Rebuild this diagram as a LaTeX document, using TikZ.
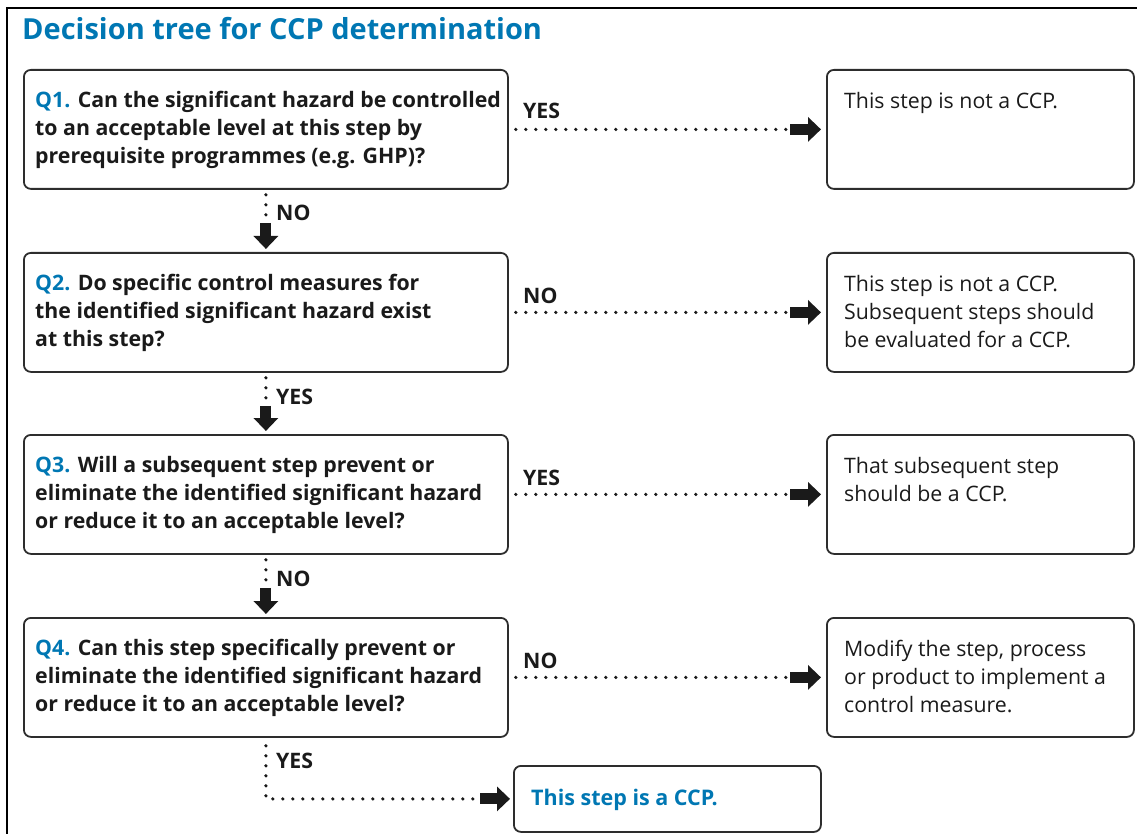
\documentclass[tikz,border=0pt]{standalone}
\usepackage{fontspec}
\setmainfont{Open Sans}
\usetikzlibrary{arrows.meta}
\definecolor{ccpblue}{RGB}{0,119,179}
\definecolor{txt}{RGB}{26,26,26}
\definecolor{boxline}{RGB}{45,45,45}
\begin{document}
\begin{tikzpicture}[x=1pt,y=-1pt,
 box/.style={draw=boxline, line width=1.8pt, rounded corners=7pt, inner sep=0pt, anchor=north west},
 qbox/.style={box, minimum width=484pt, minimum height=119pt},
 abox/.style={box, minimum width=307pt, minimum height=119pt},
 qtext/.style={anchor=north west, inner sep=0pt, align=left, font=\fontsize{21.3}{28}\selectfont\bfseries, text=txt},
 atext/.style={anchor=north west, inner sep=0pt, align=left, font=\fontsize{21.3}{28}\selectfont, text=txt},
 lbl/.style={anchor=base west, inner sep=0pt, font=\fontsize{21.3}{24}\selectfont\bfseries, text=txt},
 dots/.style={line width=3.6pt, line cap=round, dash pattern=on 0pt off 10pt, draw=txt},
 blockarrow/.style={-{Triangle[length=13pt,width=24pt]}, line width=11pt, draw=txt}
]
\useasboundingbox (0,0) rectangle (1137,834);
\draw[line width=2pt, draw=black] (7,834) -- (7,8) -- (1137,8);

\node[anchor=base west, inner sep=0pt, font=\fontsize{29}{36}\selectfont\bfseries, text=ccpblue] (title) at (22,40) {Decision tree for CCP determination};

% question boxes
\node[qbox] (q1) at (23,69) {};
\node[qbox] (q2) at (23,252) {};
\node[qbox] (q3) at (23,434) {};
\node[qbox] (q4) at (23,617) {};
% answer boxes
\node[abox] (a1) at (826,69) {};
\node[abox] (a2) at (826,252) {};
\node[abox] (a3) at (826,434) {};
\node[abox] (a4) at (826,617) {};
\node[box, minimum width=307pt, minimum height=66pt] (fin) at (513,765) {};

% texts
\node[qtext] (t1) at (35,91) {\textcolor{ccpblue}{Q1.} Can the significant hazard be controlled\\to an acceptable level at this step by\\prerequisite programmes (e.g. GHP)?};
\node[qtext] (t2) at (35,274) {\textcolor{ccpblue}{Q2.} Do specific control measures for\\the identified significant hazard exist\\at this step?};
\node[qtext] (t3) at (35,456) {\textcolor{ccpblue}{Q3.} Will a subsequent step prevent or\\eliminate the identified significant hazard\\or reduce it to an acceptable level?};
\node[qtext] (t4) at (35,639) {\textcolor{ccpblue}{Q4.} Can this step specifically prevent or\\eliminate the identified significant hazard\\or reduce it to an acceptable level?};
\node[atext] (s1) at (844,92) {This step is not a CCP.};
\node[atext] (s2) at (844,275) {This step is not a CCP.\\Subsequent steps should\\be evaluated for a CCP.};
\node[atext] (s3) at (844,457) {That subsequent step\\should be a CCP.};
\node[atext] (s4) at (844,640) {Modify the step, process\\or product to implement a\\control measure.};
\node[anchor=west, inner sep=0pt, font=\fontsize{21.5}{24}\selectfont\bfseries, text=ccpblue] (sf) at (531,800) {This step is a CCP.};

% horizontal connectors
\foreach \q/\a in {q1/a1,q2/a2,q3/a3,q4/a4}{
  \draw[dots] ([xshift=7pt]\q.east) -- ([xshift=-40pt]\a.west);
  \draw[blockarrow] ([xshift=-36pt]\a.west) -- ([xshift=-5pt]\a.west);
}
% vertical connectors
\foreach \u/\d in {q1/q2,q2/q3,q3/q4}{
  \draw[dots] ([yshift=-5pt]\u.south) -- ([yshift=-28pt]\u.south);
  \draw[blockarrow] ([yshift=-33pt]\u.south) -- ([yshift=3pt]\d.north);
}
% final connector
\coordinate (corner) at (q4.south |- fin.west);
\draw[dots] ([yshift=-8pt]q4.south) -- (corner) -- ([xshift=-40pt]fin.west);
\draw[blockarrow] ([xshift=-33pt]fin.west) -- ([xshift=-3pt]fin.west);

% labels
\node[lbl] (l1) at (523,119) {YES};
\node[lbl] (l2) at (523,303) {NO};
\node[lbl] (l3) at (523,485) {YES};
\node[lbl] (l4) at (523,668) {NO};
\node[lbl] (v1) at (276,221) {NO};
\node[lbl] (v2) at (276,404) {YES};
\node[lbl] (v3) at (276,586) {NO};
\node[lbl] (v4) at (276,768) {YES};
\end{tikzpicture}
\end{document}
